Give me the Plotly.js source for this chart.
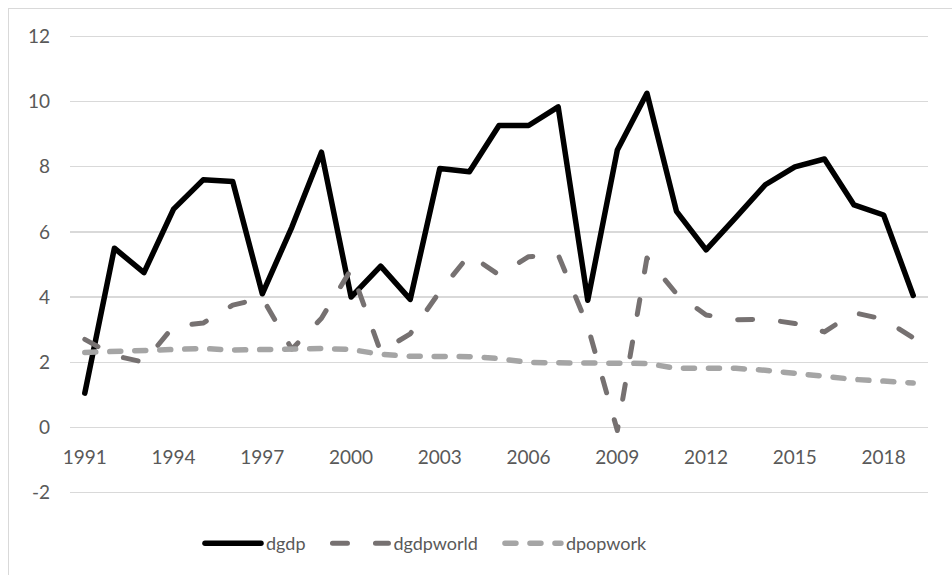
<!DOCTYPE html>
<html>
<head>
<meta charset="utf-8">
<script src="https://cdn.plot.ly/plotly-3.0.1.min.js"></script>
<style>
  html, body { margin: 0; padding: 0; background: #fff; }
  #wrap { position: relative; width: 952px; height: 575px; overflow: hidden; }
  #chart { width: 952px; height: 575px; }
  #frame { position: absolute; left: 8px; top: 8px; width: 1000px; height: 1000px;
           border-left: 1px solid #D9D9D9; border-top: 1px solid #D9D9D9; pointer-events: none; }
</style>
</head>
<body>
<div id="wrap">
  <div id="chart"></div>
  <div id="frame"></div>
</div>
<script>
const years = [1991,1992,1993,1994,1995,1996,1997,1998,1999,2000,2001,2002,2003,2004,2005,
               2006,2007,2008,2009,2010,2011,2012,2013,2014,2015,2016,2017,2018,2019];

const dgdp = [1.05,5.5,4.75,6.7,7.6,7.55,4.1,6.15,8.45,4.0,4.95,3.93,7.95,7.85,9.27,
              9.27,9.84,3.9,8.52,10.26,6.63,5.45,6.44,7.45,8.0,8.24,6.83,6.52,4.05];

const dgdpworld = [2.7,2.2,2.0,3.1,3.2,3.75,3.97,2.4,3.35,4.85,2.32,2.87,4.17,5.3,4.68,
                   5.24,5.3,3.1,-0.1,5.2,4.1,3.45,3.3,3.32,3.19,2.93,3.52,3.32,2.75];

const dpopwork = [2.3,2.34,2.35,2.39,2.42,2.37,2.39,2.4,2.42,2.39,2.24,2.18,2.18,2.17,2.11,
                  1.99,1.98,1.96,1.96,1.96,1.81,1.81,1.81,1.75,1.65,1.58,1.47,1.42,1.36];

const seriesNames = ['dgdp','dgdpworld','dpopwork'];
const yRange = [-2.05, 12.05];

const FONT = 'Lato, "Open Sans", sans-serif';
const traces = [
  { x: years, y: dgdp, name: seriesNames[0], type: 'scatter', mode: 'lines',
    line: { color: '#000000', width: 5.5 } },
  { x: years, y: dgdpworld, name: seriesNames[1], type: 'scatter', mode: 'lines',
    line: { color: '#767171', width: 5, dash: '15px,28px' } },
  { x: years, y: dpopwork, name: seriesNames[2], type: 'scatter', mode: 'lines',
    line: { color: '#A5A5A5', width: 5.5, dash: '11px,14px' } }
];

const layout = {
  width: 952, height: 575,
  margin: { l: 70, r: 24, t: 35.4, b: 81.35 },
  paper_bgcolor: '#ffffff', plot_bgcolor: '#ffffff',
  font: { family: FONT, color: '#595959', size: 19 },
  showlegend: true,
  legend: { orientation: 'h', x: 0.1515, xanchor: 'left', y: -0.1077, yanchor: 'middle',
            font: { family: FONT, size: 18, color: '#595959' }, itemwidth: 56,
            traceorder: 'normal', bgcolor: 'rgba(0,0,0,0)' },
  xaxis: {
    range: [years[0] - 0.5, years[years.length - 1] + 0.5],
    tickmode: 'linear', tick0: years[0], dtick: 3,
    showgrid: false, zeroline: false, showline: false,
    anchor: 'free', position: (0 - yRange[0]) / (yRange[1] - yRange[0]),
    ticks: '', ticklabelstandoff: 17,
    tickfont: { family: FONT, size: 19, color: '#595959' }
  },
  yaxis: {
    range: yRange, dtick: 2, tick0: 0,
    showgrid: true, gridcolor: '#D9D9D9', gridwidth: 1.2,
    zeroline: false, showline: false, ticks: '', ticklabelstandoff: 19,
    tickfont: { family: FONT, size: 19, color: '#595959' }
  },
  hovermode: false
};

function polish() {
  const gd = document.getElementById('chart');
  gd.querySelectorAll('path.js-line, .legendlines path').forEach(p => {
    p.style.strokeLinecap = 'round';
    p.style.strokeLinejoin = 'round';
  });
  // hyphen-minus like the original labels
  gd.querySelectorAll('.ytick text').forEach(t => {
    t.textContent = t.textContent.replace(/\u2212/g, '-');
  });
  // wider spacing between legend entries
  const extra = 17;
  gd.querySelectorAll('.legend g.traces').forEach((g, i) => {
    const tr = g.getAttribute('transform') || '';
    const m = tr.match(/translate\(\s*([-\d.]+)[ ,]+([-\d.]+)\s*\)/);
    if (m) {
      g.setAttribute('transform', 'translate(' + (parseFloat(m[1]) + i * extra) + ',' + m[2] + ')');
    }
  });
  // do not clip the widened legend
  gd.querySelectorAll('.legend [clip-path], .legend').forEach(el => el.removeAttribute('clip-path'));
}

Plotly.newPlot('chart', traces, layout, { staticPlot: true, displayModeBar: false }).then(polish);
</script>
</body>
</html>
